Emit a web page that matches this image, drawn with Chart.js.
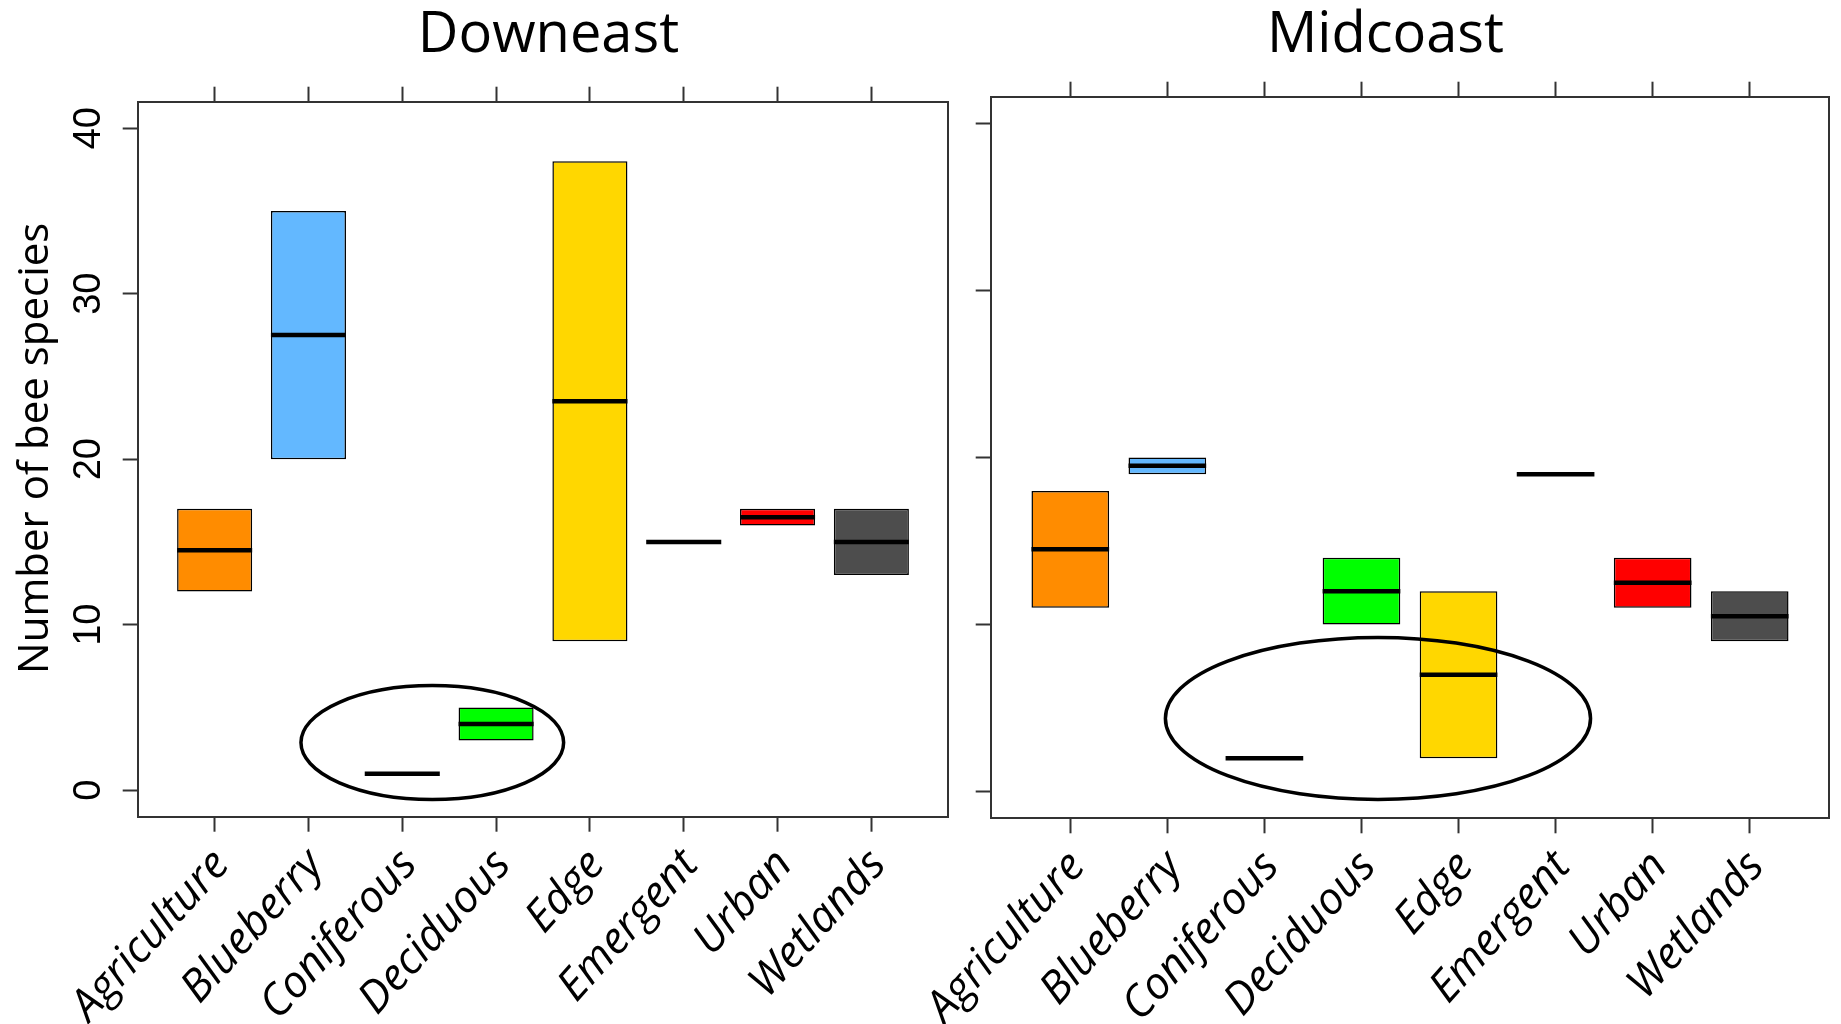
<!DOCTYPE html>
<html>
<head>
<meta charset="utf-8">
<script src="https://cdn.jsdelivr.net/npm/chart.js@4.4.1/dist/chart.umd.min.js"></script>
<style>
  html, body { margin: 0; padding: 0; background: #fff; }
  body { width: 1841px; height: 1024px; position: relative; overflow: hidden; }
  .panel { position: absolute; top: 0; height: 1024px; }
  #downeast { left: 0; width: 1097px; }
  #midcoast { left: 880px; width: 1011px; }
</style>
</head>
<body>
<div class="panel" id="downeast"><canvas id="downeastChart"></canvas></div>
<div class="panel" id="midcoast"><canvas id="midcoastChart"></canvas></div>
<script>
// Habitat categories shared by both regions
const habitats = ['Agriculture', 'Blueberry', 'Coniferous', 'Deciduous', 'Edge', 'Emergent', 'Urban', 'Wetlands'];
const habitatColors = ['#FF8C00', '#63B8FF', '#228B22', '#00FF00', '#FFD700', '#9ACD32', '#FF0000', '#4D4D4D'];

// Number of bee species: box bottom, box top and median per habitat
const downeastLow    = [12,   20,   1, 3,  9,    15, 16,   13];
const downeastHigh   = [17,   35,   1, 5,  38,   15, 17,   17];
const downeastMedian = [14.5, 27.5, 1, 4,  23.5, 15, 16.5, 15];

const midcoastLow    = [11,   19,   2, 10, 2,  19, 11,   9];
const midcoastHigh   = [18,   20,   2, 14, 12, 19, 14,   12];
const midcoastMedian = [14.5, 19.5, 2, 12, 7,  19, 12.5, 10.5];

const yTicks = [0, 10, 20, 30, 40];

// Highlighted groups (centre and half-extent in axis units)
const downeastRing = { x: 3.32, y: 2.88, rx: 1.40, ry: 3.44 };
const midcoastRing = { x: 4.17, y: 4.38, rx: 2.19, ry: 4.85 };

const X_MIN = 0.18, X_MAX = 8.82, Y_MIN = -1.6, Y_MAX = 41.6;
const BOX_WIDTH = 0.8;
const AXIS_COLOR = '#333333';

const ringPlugin = {
  id: 'ring',
  afterDatasetsDraw(chart, args, opts) {
    if (!opts || opts.x === undefined) return;
    const xs = chart.scales.x, ys = chart.scales.y, ctx = chart.ctx;
    const cx = xs.getPixelForValue(opts.x);
    const cy = ys.getPixelForValue(opts.y);
    const rx = Math.abs(xs.getPixelForValue(opts.x + opts.rx) - cx);
    const ry = Math.abs(ys.getPixelForValue(opts.y + opts.ry) - cy);
    ctx.save();
    ctx.beginPath();
    ctx.ellipse(cx, cy, rx, ry, 0, 0, Math.PI * 2);
    ctx.lineWidth = 3.5;
    ctx.strokeStyle = '#000';
    ctx.stroke();
    ctx.restore();
  }
};

const categoryTicks = s => { s.ticks = habitats.map((h, i) => ({ value: i + 1 })); };
const halfBox = ctx => {
  const s = ctx.chart.scales.x;
  return Math.abs(s.getPixelForValue(1 + BOX_WIDTH / 2) - s.getPixelForValue(1));
};

function tickGrid() {
  return { display: true, offset: false, drawOnChartArea: false, drawTicks: true, tickLength: 15, tickWidth: 2, tickColor: AXIS_COLOR, color: AXIS_COLOR };
}
function frameBorder() {
  return { display: true, color: AXIS_COLOR, width: 2 };
}

function makePanel(canvasId, title, low, high, median, ring, g) {
  return new Chart(document.getElementById(canvasId), {
    type: 'bar',
    data: {
      datasets: [
        {
          type: 'line',
          data: habitats.map((h, i) => ({ x: i + 1, y: median[i] })),
          showLine: false,
          pointStyle: 'line',
          pointRadius: halfBox,
          pointHoverRadius: halfBox,
          pointBorderWidth: 4.5,
          pointBorderColor: '#000',
          pointBackgroundColor: '#000',
          order: 0
        },
        {
          type: 'bar',
          data: habitats.map((h, i) => ({ x: i + 1, y: [low[i], high[i]] })),
          backgroundColor: habitatColors,
          borderColor: '#000',
          borderWidth: 1.5,
          borderSkipped: false,
          barPercentage: 1,
          categoryPercentage: BOX_WIDTH,
          order: 1
        }
      ]
    },
    options: {
      responsive: true,
      maintainAspectRatio: false,
      animation: false,
      events: [],
      layout: { padding: 0 },
      plugins: {
        legend: { display: false },
        tooltip: { enabled: false },
        title: {
          display: true,
          text: title,
          color: '#000',
          font: { family: 'Open Sans', size: 56, weight: 'normal', lineHeight: 1 },
          padding: { top: 8, bottom: 0 }
        },
        ring: ring
      },
      scales: {
        x: {
          type: 'linear', position: 'bottom', min: X_MIN, max: X_MAX, offset: false,
          afterBuildTicks: categoryTicks,
          afterFit: s => { s.height = g.xHeight; },
          ticks: {
            callback: v => habitats[v - 1],
            autoSkip: false, minRotation: 48, maxRotation: 48, padding: 8, labelOffset: 7,
            color: '#000',
            font: { family: 'Open Sans', size: 44, style: 'italic' }
          },
          grid: tickGrid(),
          border: frameBorder()
        },
        x2: {
          type: 'linear', position: 'top', min: X_MIN, max: X_MAX, offset: false,
          afterBuildTicks: categoryTicks,
          afterFit: s => { s.height = g.x2Height; },
          ticks: { display: false },
          grid: tickGrid(),
          border: frameBorder()
        },
        y: {
          type: 'linear', position: 'left', min: Y_MIN, max: Y_MAX,
          afterBuildTicks: s => { s.ticks = yTicks.map(v => ({ value: v })); },
          afterFit: s => { s.width = g.yWidth; },
          ticks: {
            display: g.yLabels, minRotation: 90, maxRotation: 90, crossAlign: 'center', padding: 12,
            color: '#000',
            font: { family: 'Liberation Sans', size: 38 }
          },
          grid: tickGrid(),
          border: frameBorder(),
          title: {
            display: g.yLabels,
            text: '  Number of bee species',
            color: '#000',
            font: { family: 'Open Sans', size: 42 },
            padding: { top: 11, bottom: 0 }
          }
        },
        y2: {
          type: 'linear', position: 'right', min: Y_MIN, max: Y_MAX,
          afterFit: s => { s.width = g.y2Width; },
          ticks: { display: false },
          grid: { display: false, drawTicks: false },
          border: frameBorder()
        }
      }
    },
    plugins: [ringPlugin]
  });
}

makePanel('downeastChart', 'Downeast', downeastLow, downeastHigh, downeastMedian, downeastRing,
  { xHeight: 207.3, x2Height: 37.7, yWidth: 137.7, y2Width: 148.7, yLabels: true });
makePanel('midcoastChart', 'Midcoast', midcoastLow, midcoastHigh, midcoastMedian, midcoastRing,
  { xHeight: 205.7, x2Height: 32.7, yWidth: 110.7, y2Width: 61.7, yLabels: false });
</script>
</body>
</html>
